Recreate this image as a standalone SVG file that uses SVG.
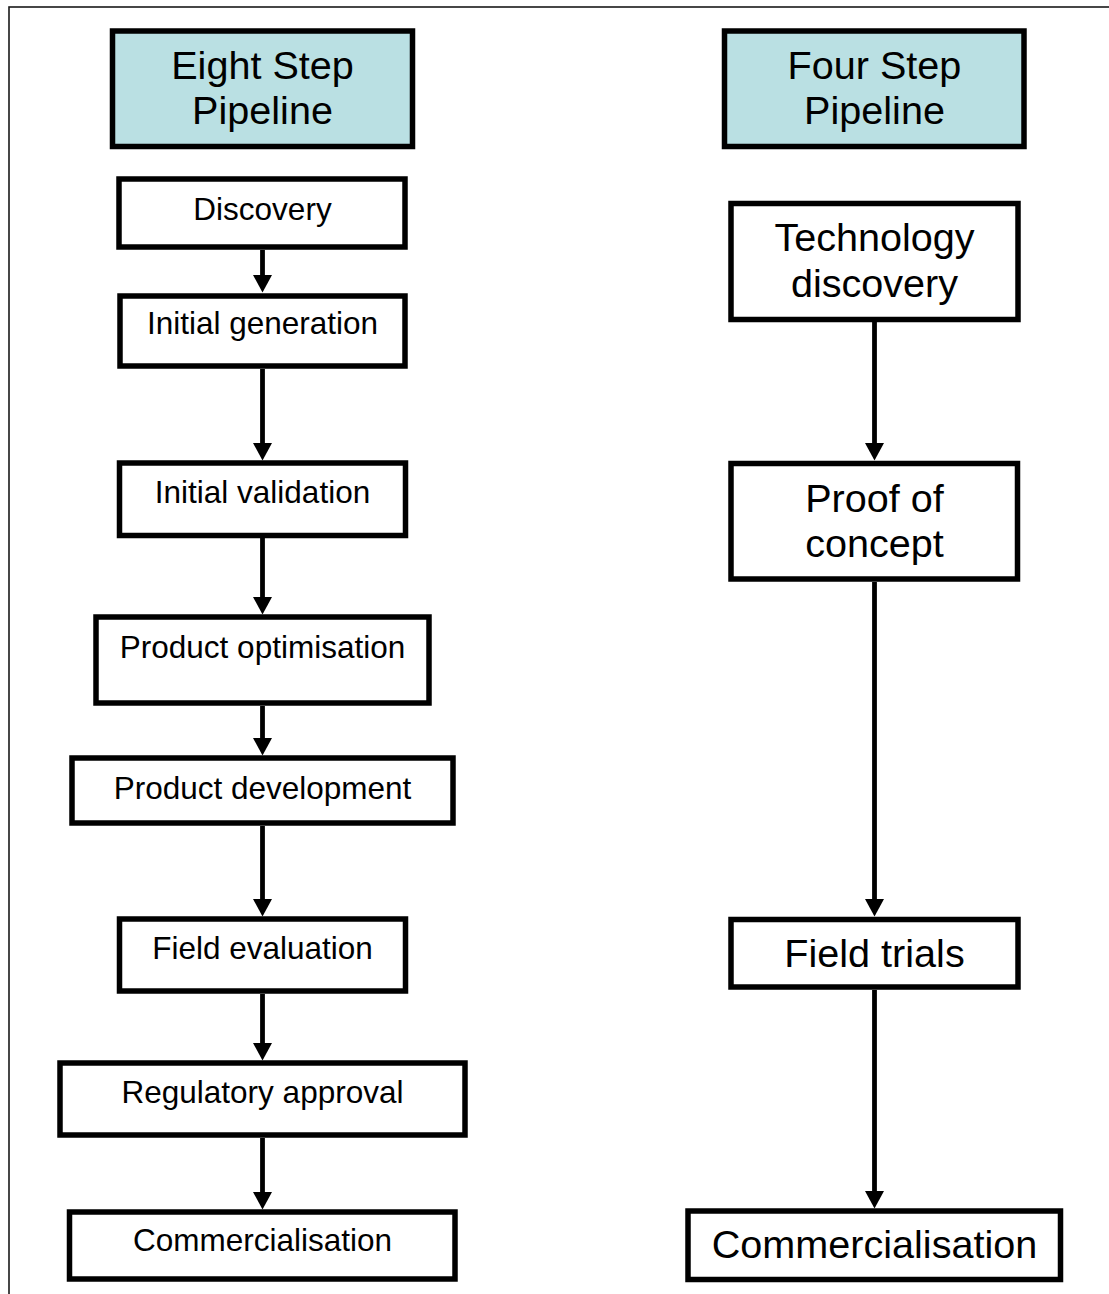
<svg xmlns="http://www.w3.org/2000/svg" width="1109" height="1294" viewBox="0 0 1109 1294">
<style>
.frame{fill:none;stroke:#1a1a1a;stroke-width:1.6}
.box{fill:#ffffff;stroke:#000;stroke-width:5.5}
.head{fill:#BAE0E3;stroke:#000;stroke-width:5.5}
.t{font-family:"Liberation Sans",Arial,sans-serif;fill:#000;text-anchor:middle}
.s{font-size:31.5px}
.b{font-size:39.6px}
.c{stroke:#000;stroke-width:4.8;fill:none}
</style>
<defs>
<marker id="ah" markerUnits="userSpaceOnUse" markerWidth="20" markerHeight="20" viewBox="0 -10 18 20" refX="0" refY="0" orient="auto">
<path d="M0,-9.5 L17.5,0 L0,9.5 z" fill="#000"/>
</marker>
</defs>
<rect class="frame" x="9" y="7" width="1120" height="1310"/>
<g id="connectors">
<line class="c" x1="262.5" y1="250" x2="262.5" y2="275" marker-end="url(#ah)"/>
<line class="c" x1="262.5" y1="369" x2="262.5" y2="443" marker-end="url(#ah)"/>
<line class="c" x1="262.5" y1="538" x2="262.5" y2="597" marker-end="url(#ah)"/>
<line class="c" x1="262.5" y1="706" x2="262.5" y2="738" marker-end="url(#ah)"/>
<line class="c" x1="262.5" y1="826" x2="262.5" y2="899" marker-end="url(#ah)"/>
<line class="c" x1="262.5" y1="994" x2="262.5" y2="1043" marker-end="url(#ah)"/>
<line class="c" x1="262.5" y1="1138" x2="262.5" y2="1192" marker-end="url(#ah)"/>
<line class="c" x1="874.5" y1="322" x2="874.5" y2="443" marker-end="url(#ah)"/>
<line class="c" x1="874.5" y1="582" x2="874.5" y2="899" marker-end="url(#ah)"/>
<line class="c" x1="874.5" y1="990" x2="874.5" y2="1191" marker-end="url(#ah)"/>
</g>
<g id="eight-header">
<rect class="head" x="112.5" y="31" width="300" height="115.5"/>
<text class="t b" x="262.5" y="79">Eight Step</text>
<text class="t b" x="262.5" y="124">Pipeline</text>
</g>
<g id="four-header">
<rect class="head" x="724.5" y="31" width="299.5" height="115.5"/>
<text class="t b" x="874.5" y="79">Four Step</text>
<text class="t b" x="874.5" y="124">Pipeline</text>
</g>
<g id="discovery">
<rect class="box" x="119" y="179" width="286" height="68"/>
<text class="t s" x="262.5" y="220">Discovery</text>
</g>
<g id="initial-generation">
<rect class="box" x="120" y="296" width="285" height="70"/>
<text class="t s" x="262.5" y="334">Initial generation</text>
</g>
<g id="initial-validation">
<rect class="box" x="119.5" y="463" width="286" height="72.5"/>
<text class="t s" x="262.5" y="503">Initial validation</text>
</g>
<g id="product-optimisation">
<rect class="box" x="96" y="617" width="333" height="86"/>
<text class="t s" x="262.5" y="658">Product optimisation</text>
</g>
<g id="product-development">
<rect class="box" x="72" y="758" width="381" height="65"/>
<text class="t s" x="262.5" y="799">Product development</text>
</g>
<g id="field-evaluation">
<rect class="box" x="119.5" y="919" width="286" height="72"/>
<text class="t s" x="262.5" y="959">Field evaluation</text>
</g>
<g id="regulatory-approval">
<rect class="box" x="60" y="1063" width="405" height="72"/>
<text class="t s" x="262.5" y="1103">Regulatory approval</text>
</g>
<g id="commercialisation-8">
<rect class="box" x="69.5" y="1212" width="385.5" height="67"/>
<text class="t s" x="262.5" y="1251">Commercialisation</text>
</g>
<g id="technology-discovery">
<rect class="box" x="731" y="203.5" width="287" height="116"/>
<text class="t b" x="874.5" y="251">Technology</text>
<text class="t b" x="874.5" y="297">discovery</text>
</g>
<g id="proof-of-concept">
<rect class="box" x="731" y="463.5" width="286.5" height="115.5"/>
<text class="t b" x="874.5" y="512">Proof of</text>
<text class="t b" x="874.5" y="557">concept</text>
</g>
<g id="field-trials">
<rect class="box" x="731" y="919.5" width="287" height="67.5"/>
<text class="t b" x="874.5" y="967">Field trials</text>
</g>
<g id="commercialisation-4">
<rect class="box" x="688" y="1211" width="372.5" height="68.5"/>
<text class="t b" x="874.5" y="1258">Commercialisation</text>
</g>
</svg>
